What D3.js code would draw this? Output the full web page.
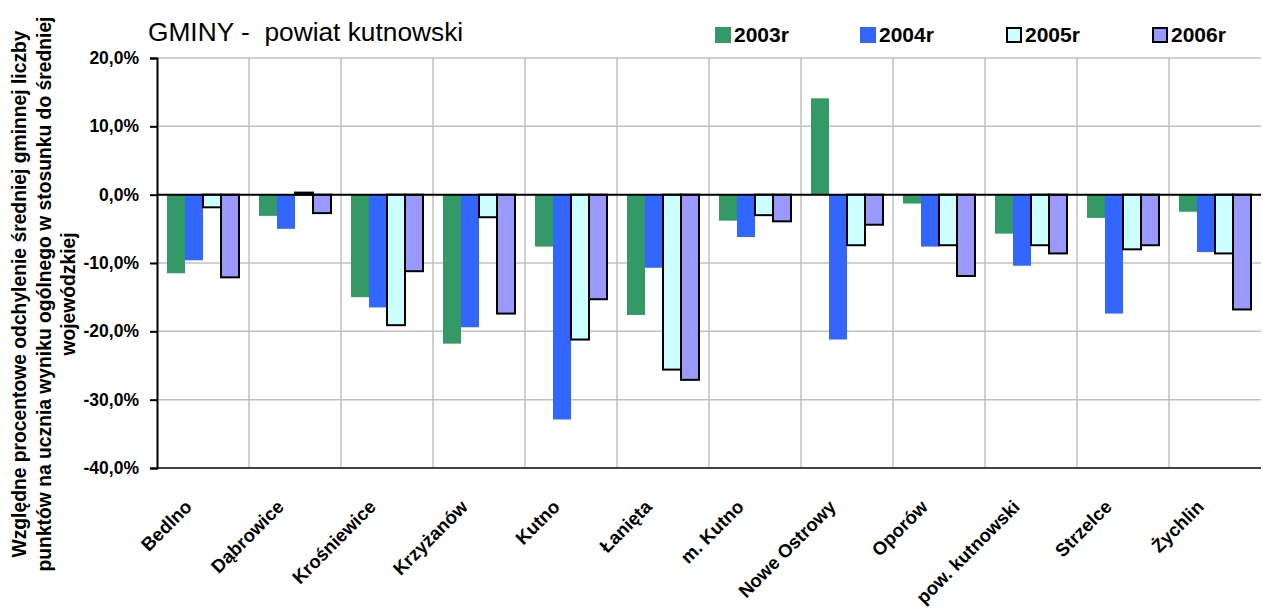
<!DOCTYPE html>
<html>
<head>
<meta charset="utf-8">
<script src="https://cdn.jsdelivr.net/npm/d3@7.9.0/dist/d3.min.js"></script>
<style>
  body { margin: 0; background: #fff; }
  svg { display: block; font-family: "Liberation Sans", Arial, sans-serif; }
</style>
</head>
<body>
<svg id="chart" width="1263" height="608"></svg>
<script>
// gminy (categories)
const gminy = ["Bedlno", "Dąbrowice", "Krośniewice", "Krzyżanów", "Kutno", "Łanięta",
  "m. Kutno", "Nowe Ostrowy", "Oporów", "pow. kutnowski", "Strzelce", "Żychlin"];

// series, % deviation from the voivodeship average
const y2003 = [-11.5, -3.1, -15.0, -21.8, -7.6, -17.6, -3.8, 14.1, -1.3, -5.7, -3.4, -2.5];
const y2004 = [-9.6, -5.0, -16.5, -19.4, -32.9, -10.7, -6.2, -21.2, -7.6, -10.4, -17.4, -8.4];
const y2005 = [-1.85, 0.3, -19.1, -3.3, -21.2, -25.6, -3.0, -7.4, -7.4, -7.4, -8.0, -8.6];
const y2006 = [-12.1, -2.7, -11.2, -17.4, -15.3, -27.1, -3.9, -4.4, -11.9, -8.6, -7.4, -16.8];

const seriesNames = ["2003r", "2004r", "2005r", "2006r"];
const seriesValues = [y2003, y2004, y2005, y2006];
const yTicks = [20, 10, 0, -10, -20, -30, -40];

const colors = ["#339966", "#3366ff", "#ccffff", "#9999ff"];
const outlined = [false, false, true, true];

const svg = d3.select("#chart");
const m = { left: 157, right: 1261, top: 58, bottom: 468 };

const x = d3.scaleBand().domain(gminy).range([m.left, m.right]);
const x1 = d3.scaleBand().domain(seriesNames).range([10, x.bandwidth() - 10]);
const y = d3.scaleLinear().domain([-40, 20]).range([m.bottom, m.top]);

const fmt = v => d3.format(".1f")(v).replace(".", ",").replace("−", "-") + "%";

// grid
const grid = svg.append("g");
grid.selectAll("line.h").data(yTicks).join("line")
  .attr("x1", m.left).attr("x2", m.right)
  .attr("y1", d => y(d)).attr("y2", d => y(d))
  .attr("stroke", "#c0c0c0").attr("stroke-width", 1.5);
grid.selectAll("line.v").data(gminy.slice(1)).join("line")
  .attr("x1", d => x(d)).attr("x2", d => x(d))
  .attr("y1", m.top).attr("y2", m.bottom)
  .attr("stroke", "#c0c0c0").attr("stroke-width", 1.5);

// bars
seriesNames.forEach((s, si) => {
  svg.append("g").selectAll("rect").data(seriesValues[si]).join("rect")
    .attr("x", (d, i) => x(gminy[i]) + x1(s))
    .attr("width", x1.bandwidth())
    .attr("y", d => y(Math.max(0, d)))
    .attr("height", d => Math.abs(y(d) - y(0)))
    .attr("fill", colors[si])
    .attr("stroke", outlined[si] ? "#000" : "none")
    .attr("stroke-width", 2);
});

// zero line
svg.append("line")
  .attr("x1", m.left).attr("x2", m.right)
  .attr("y1", y(0)).attr("y2", y(0))
  .attr("stroke", "#000").attr("stroke-width", 2);

// bottom axis line
svg.append("line")
  .attr("x1", m.left).attr("x2", m.right)
  .attr("y1", m.bottom).attr("y2", m.bottom)
  .attr("stroke", "#404040").attr("stroke-width", 2);

// y axis
const yAxis = svg.append("g")
  .attr("transform", `translate(${m.left},0)`)
  .call(d3.axisLeft(y).tickValues(yTicks).tickFormat(fmt).tickSize(7).tickPadding(11));
yAxis.select(".domain").attr("stroke", "#000").attr("stroke-width", 2);
yAxis.selectAll(".tick line").attr("stroke", "#000").attr("stroke-width", 2);
yAxis.selectAll("text")
  .attr("font-family", "Liberation Sans, Arial, sans-serif")
  .attr("font-size", 17.5).attr("font-weight", "bold").attr("fill", "#000");

// x labels
svg.append("g").selectAll("text").data(gminy).join("text")
  .attr("transform", d => `translate(${x(d) + x.bandwidth() / 2 - 10},${508}) rotate(-45)`)
  .attr("text-anchor", "end")
  .attr("font-size", 18.5).attr("font-weight", "bold")
  .text(d => d);

// y title
const yTitle = ["Względne procentowe odchylenie średniej gminnej liczby",
  "punktów na ucznia wyniku ogólnego w stosunku do średniej",
  "wojewódzkiej"];
svg.append("g")
  .attr("transform", "translate(0,294) rotate(-90)")
  .selectAll("text").data(yTitle).join("text")
  .attr("x", 0).attr("y", (d, i) => 26 + i * 24.5)
  .attr("text-anchor", "middle")
  .attr("font-size", 19.3).attr("font-weight", "bold")
  .text(d => d);

// title
svg.append("text")
  .attr("x", 148).attr("y", 41)
  .attr("font-size", 26.3)
  .style("white-space", "pre")
  .text("GMINY -  powiat kutnowski");

// legend
const legendX = [715, 860, 1006, 1152];
const lg = svg.append("g").selectAll("g").data(seriesNames).join("g")
  .attr("transform", (d, i) => `translate(${legendX[i]},27)`);
lg.append("rect")
  .attr("x", (d, i) => outlined[i] ? 1 : 0).attr("y", (d, i) => outlined[i] ? 1 : 0)
  .attr("width", (d, i) => outlined[i] ? 14 : 16)
  .attr("height", (d, i) => outlined[i] ? 14 : 16)
  .attr("fill", (d, i) => colors[i])
  .attr("stroke", (d, i) => outlined[i] ? "#000" : "none")
  .attr("stroke-width", 2);
lg.append("text")
  .attr("x", 19).attr("y", 15)
  .attr("font-size", 21).attr("font-weight", "bold")
  .text(d => d);
</script>
</body>
</html>
